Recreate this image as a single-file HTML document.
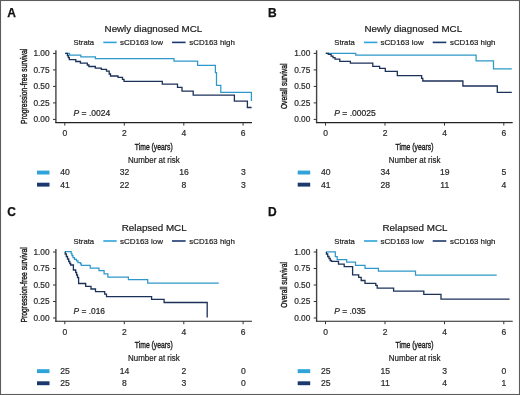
<!DOCTYPE html>
<html><head><meta charset="utf-8"><style>
html,body{margin:0;padding:0;background:#fff;}
body{width:520px;height:395px;overflow:hidden;}
svg{display:block;font-family:"Liberation Sans", sans-serif;filter:blur(0.3px);}
</style></head><body>
<svg width="520" height="395" viewBox="0 0 520 395">
<rect x="0" y="0" width="520" height="395" fill="#fff"/>
<g>
<text x="7.3" y="17.0" font-size="12" text-anchor="start" fill="#111" stroke="#111" stroke-width="0.25" font-weight="bold">A</text>
<text x="153.4" y="32.1" font-size="9.8" text-anchor="middle" fill="#1a1a1a" stroke="#1a1a1a" stroke-width="0.2" textLength="97.6" lengthAdjust="spacingAndGlyphs">Newly diagnosed MCL</text>
<text x="73.6" y="45.2" font-size="8.1" text-anchor="start" fill="#222" stroke="#222" stroke-width="0.2" textLength="20.5" lengthAdjust="spacingAndGlyphs">Strata</text>
<line x1="103.3" y1="42.4" x2="116.7" y2="42.4" stroke="#2fa3da" stroke-width="1.6"/>
<text x="119.9" y="45.2" font-size="8.1" text-anchor="start" fill="#222" stroke="#222" stroke-width="0.2" textLength="43.1" lengthAdjust="spacingAndGlyphs">sCD163 low</text>
<line x1="172.0" y1="42.4" x2="185.6" y2="42.4" stroke="#1b396e" stroke-width="1.6"/>
<text x="189.3" y="45.2" font-size="8.1" text-anchor="start" fill="#222" stroke="#222" stroke-width="0.2" textLength="45.5" lengthAdjust="spacingAndGlyphs">sCD163 high</text>
<text transform="translate(26.6,86.3) rotate(-90)" x="0" y="0" font-size="9.6" text-anchor="middle" fill="#1a1a1a" stroke="#1a1a1a" stroke-width="0.4" textLength="75.2" lengthAdjust="spacingAndGlyphs">Progression-free survival</text>
<line x1="55.9" y1="50.3" x2="55.9" y2="123.1" stroke="#444" stroke-width="1.4"/>
<line x1="55.3" y1="122.6" x2="252.0" y2="122.6" stroke="#222" stroke-width="1.1"/>
<line x1="53.0" y1="53.4" x2="55.9" y2="53.4" stroke="#333" stroke-width="1"/>
<text x="49.6" y="56.3" font-size="8.3" text-anchor="end" fill="#2a2a2a" stroke="#2a2a2a" stroke-width="0.2" >1.00</text>
<line x1="53.0" y1="69.9" x2="55.9" y2="69.9" stroke="#333" stroke-width="1"/>
<text x="49.6" y="72.8" font-size="8.3" text-anchor="end" fill="#2a2a2a" stroke="#2a2a2a" stroke-width="0.2" >0.75</text>
<line x1="53.0" y1="86.4" x2="55.9" y2="86.4" stroke="#333" stroke-width="1"/>
<text x="49.6" y="89.3" font-size="8.3" text-anchor="end" fill="#2a2a2a" stroke="#2a2a2a" stroke-width="0.2" >0.50</text>
<line x1="53.0" y1="102.9" x2="55.9" y2="102.9" stroke="#333" stroke-width="1"/>
<text x="49.6" y="105.8" font-size="8.3" text-anchor="end" fill="#2a2a2a" stroke="#2a2a2a" stroke-width="0.2" >0.25</text>
<line x1="53.0" y1="119.4" x2="55.9" y2="119.4" stroke="#333" stroke-width="1"/>
<text x="49.6" y="122.3" font-size="8.3" text-anchor="end" fill="#2a2a2a" stroke="#2a2a2a" stroke-width="0.2" >0.00</text>
<line x1="64.8" y1="122.6" x2="64.8" y2="125.6" stroke="#333" stroke-width="1"/>
<text x="64.8" y="136.0" font-size="8.5" text-anchor="middle" fill="#2a2a2a" stroke="#2a2a2a" stroke-width="0.2" >0</text>
<line x1="124.3" y1="122.6" x2="124.3" y2="125.6" stroke="#333" stroke-width="1"/>
<text x="124.3" y="136.0" font-size="8.5" text-anchor="middle" fill="#2a2a2a" stroke="#2a2a2a" stroke-width="0.2" >2</text>
<line x1="183.8" y1="122.6" x2="183.8" y2="125.6" stroke="#333" stroke-width="1"/>
<text x="183.8" y="136.0" font-size="8.5" text-anchor="middle" fill="#2a2a2a" stroke="#2a2a2a" stroke-width="0.2" >4</text>
<line x1="243.1" y1="122.6" x2="243.1" y2="125.6" stroke="#333" stroke-width="1"/>
<text x="243.1" y="136.0" font-size="8.5" text-anchor="middle" fill="#2a2a2a" stroke="#2a2a2a" stroke-width="0.2" >6</text>
<text x="153.8" y="149.8" font-size="9.9" text-anchor="middle" fill="#1a1a1a" stroke="#1a1a1a" stroke-width="0.4" textLength="37.9" lengthAdjust="spacingAndGlyphs">Time (years)</text>
<text x="153.9" y="162.6" font-size="8.4" text-anchor="middle" fill="#222" stroke="#222" stroke-width="0.2" textLength="51.6" lengthAdjust="spacingAndGlyphs">Number at risk</text>
<rect x="37.0" y="170.6" width="12.5" height="3.9" fill="#2fa3da"/>
<rect x="37.0" y="182.7" width="12.5" height="3.9" fill="#1b396e"/>
<text x="65.0" y="175.2" font-size="8.6" text-anchor="middle" fill="#2a2a2a" stroke="#2a2a2a" stroke-width="0.2" >40</text>
<text x="65.0" y="187.6" font-size="8.6" text-anchor="middle" fill="#2a2a2a" stroke="#2a2a2a" stroke-width="0.2" >41</text>
<text x="124.5" y="175.2" font-size="8.6" text-anchor="middle" fill="#2a2a2a" stroke="#2a2a2a" stroke-width="0.2" >32</text>
<text x="124.5" y="187.6" font-size="8.6" text-anchor="middle" fill="#2a2a2a" stroke="#2a2a2a" stroke-width="0.2" >22</text>
<text x="184.0" y="175.2" font-size="8.6" text-anchor="middle" fill="#2a2a2a" stroke="#2a2a2a" stroke-width="0.2" >16</text>
<text x="184.0" y="187.6" font-size="8.6" text-anchor="middle" fill="#2a2a2a" stroke="#2a2a2a" stroke-width="0.2" >8</text>
<text x="243.3" y="175.2" font-size="8.6" text-anchor="middle" fill="#2a2a2a" stroke="#2a2a2a" stroke-width="0.2" >3</text>
<text x="243.3" y="187.6" font-size="8.6" text-anchor="middle" fill="#2a2a2a" stroke="#2a2a2a" stroke-width="0.2" >3</text>
<text x="73.6" y="115.6" font-size="8.5" fill="#222" stroke="#222" stroke-width="0.2" textLength="36.6" lengthAdjust="spacingAndGlyphs"><tspan font-style="italic">P</tspan> = .0024</text>
<path d="M65.2,53.4H69.5V55.2H80.8V56.8H95.4V58.7H174.0V61.1H197.6V65.4H215.4V72.7H216.5V85.3H220.8V92.3H251.4V101.1" fill="none" stroke="#2e98ca" stroke-width="1.25" stroke-linejoin="miter" stroke-linecap="butt"/>
<path d="M65.2,53.4H67.4V55.5H68.3V57.5H69.3V59.7H75.8V61.5H80.4V63.2H87.3V65.0H88.9V66.5H95.3V68.1H101.3V69.3H106.5V71.1H109.2V74.0H110.5V76.0H118.0V77.4H122.5V79.4H124.0V81.4H162.3V84.2H177.5V87.3H182.0V91.1H193.2V95.2H234.4V101.1H247.4V107.5H251.6" fill="none" stroke="#1b3158" stroke-width="1.3" stroke-linejoin="miter" stroke-linecap="butt"/>
</g>
<g>
<text x="268.0" y="17.0" font-size="12" text-anchor="start" fill="#111" stroke="#111" stroke-width="0.25" font-weight="bold">B</text>
<text x="413.3" y="32.1" font-size="9.8" text-anchor="middle" fill="#1a1a1a" stroke="#1a1a1a" stroke-width="0.2" textLength="97.6" lengthAdjust="spacingAndGlyphs">Newly diagnosed MCL</text>
<text x="334.3" y="45.2" font-size="8.1" text-anchor="start" fill="#222" stroke="#222" stroke-width="0.2" textLength="20.5" lengthAdjust="spacingAndGlyphs">Strata</text>
<line x1="364.0" y1="42.4" x2="377.4" y2="42.4" stroke="#2fa3da" stroke-width="1.6"/>
<text x="380.6" y="45.2" font-size="8.1" text-anchor="start" fill="#222" stroke="#222" stroke-width="0.2" textLength="43.1" lengthAdjust="spacingAndGlyphs">sCD163 low</text>
<line x1="432.7" y1="42.4" x2="446.3" y2="42.4" stroke="#1b396e" stroke-width="1.6"/>
<text x="450.0" y="45.2" font-size="8.1" text-anchor="start" fill="#222" stroke="#222" stroke-width="0.2" textLength="45.5" lengthAdjust="spacingAndGlyphs">sCD163 high</text>
<text transform="translate(287.3,86.3) rotate(-90)" x="0" y="0" font-size="9.6" text-anchor="middle" fill="#1a1a1a" stroke="#1a1a1a" stroke-width="0.4" textLength="45.6" lengthAdjust="spacingAndGlyphs">Overall survival</text>
<line x1="316.6" y1="50.3" x2="316.6" y2="123.1" stroke="#444" stroke-width="1.4"/>
<line x1="316.0" y1="122.6" x2="512.7" y2="122.6" stroke="#222" stroke-width="1.1"/>
<line x1="313.7" y1="53.4" x2="316.6" y2="53.4" stroke="#333" stroke-width="1"/>
<text x="310.3" y="56.3" font-size="8.3" text-anchor="end" fill="#2a2a2a" stroke="#2a2a2a" stroke-width="0.2" >1.00</text>
<line x1="313.7" y1="69.9" x2="316.6" y2="69.9" stroke="#333" stroke-width="1"/>
<text x="310.3" y="72.8" font-size="8.3" text-anchor="end" fill="#2a2a2a" stroke="#2a2a2a" stroke-width="0.2" >0.75</text>
<line x1="313.7" y1="86.4" x2="316.6" y2="86.4" stroke="#333" stroke-width="1"/>
<text x="310.3" y="89.3" font-size="8.3" text-anchor="end" fill="#2a2a2a" stroke="#2a2a2a" stroke-width="0.2" >0.50</text>
<line x1="313.7" y1="102.9" x2="316.6" y2="102.9" stroke="#333" stroke-width="1"/>
<text x="310.3" y="105.8" font-size="8.3" text-anchor="end" fill="#2a2a2a" stroke="#2a2a2a" stroke-width="0.2" >0.25</text>
<line x1="313.7" y1="119.4" x2="316.6" y2="119.4" stroke="#333" stroke-width="1"/>
<text x="310.3" y="122.3" font-size="8.3" text-anchor="end" fill="#2a2a2a" stroke="#2a2a2a" stroke-width="0.2" >0.00</text>
<line x1="325.5" y1="122.6" x2="325.5" y2="125.6" stroke="#333" stroke-width="1"/>
<text x="325.5" y="136.0" font-size="8.5" text-anchor="middle" fill="#2a2a2a" stroke="#2a2a2a" stroke-width="0.2" >0</text>
<line x1="385.0" y1="122.6" x2="385.0" y2="125.6" stroke="#333" stroke-width="1"/>
<text x="385.0" y="136.0" font-size="8.5" text-anchor="middle" fill="#2a2a2a" stroke="#2a2a2a" stroke-width="0.2" >2</text>
<line x1="444.5" y1="122.6" x2="444.5" y2="125.6" stroke="#333" stroke-width="1"/>
<text x="444.5" y="136.0" font-size="8.5" text-anchor="middle" fill="#2a2a2a" stroke="#2a2a2a" stroke-width="0.2" >4</text>
<line x1="503.8" y1="122.6" x2="503.8" y2="125.6" stroke="#333" stroke-width="1"/>
<text x="503.8" y="136.0" font-size="8.5" text-anchor="middle" fill="#2a2a2a" stroke="#2a2a2a" stroke-width="0.2" >6</text>
<text x="414.5" y="149.8" font-size="9.9" text-anchor="middle" fill="#1a1a1a" stroke="#1a1a1a" stroke-width="0.4" textLength="37.9" lengthAdjust="spacingAndGlyphs">Time (years)</text>
<text x="414.6" y="162.6" font-size="8.4" text-anchor="middle" fill="#222" stroke="#222" stroke-width="0.2" textLength="51.6" lengthAdjust="spacingAndGlyphs">Number at risk</text>
<rect x="297.7" y="170.6" width="12.5" height="3.9" fill="#2fa3da"/>
<rect x="297.7" y="182.7" width="12.5" height="3.9" fill="#1b396e"/>
<text x="325.7" y="175.2" font-size="8.6" text-anchor="middle" fill="#2a2a2a" stroke="#2a2a2a" stroke-width="0.2" >40</text>
<text x="325.7" y="187.6" font-size="8.6" text-anchor="middle" fill="#2a2a2a" stroke="#2a2a2a" stroke-width="0.2" >41</text>
<text x="385.2" y="175.2" font-size="8.6" text-anchor="middle" fill="#2a2a2a" stroke="#2a2a2a" stroke-width="0.2" >34</text>
<text x="385.2" y="187.6" font-size="8.6" text-anchor="middle" fill="#2a2a2a" stroke="#2a2a2a" stroke-width="0.2" >28</text>
<text x="444.7" y="175.2" font-size="8.6" text-anchor="middle" fill="#2a2a2a" stroke="#2a2a2a" stroke-width="0.2" >19</text>
<text x="444.7" y="187.6" font-size="8.6" text-anchor="middle" fill="#2a2a2a" stroke="#2a2a2a" stroke-width="0.2" >11</text>
<text x="504.0" y="175.2" font-size="8.6" text-anchor="middle" fill="#2a2a2a" stroke="#2a2a2a" stroke-width="0.2" >5</text>
<text x="504.0" y="187.6" font-size="8.6" text-anchor="middle" fill="#2a2a2a" stroke="#2a2a2a" stroke-width="0.2" >4</text>
<text x="334.3" y="115.6" font-size="8.5" fill="#222" stroke="#222" stroke-width="0.2" textLength="41.4" lengthAdjust="spacingAndGlyphs"><tspan font-style="italic">P</tspan> = .00025</text>
<path d="M325.8,53.3H355.7V55.2H476.1V60.9H493.5V68.9H511.8" fill="none" stroke="#2e98ca" stroke-width="1.25" stroke-linejoin="miter" stroke-linecap="butt"/>
<path d="M325.8,53.3H328.3V54.3H331.1V56.2H333.0V57.6H335.0V59.1H339.8V61.3H350.4V63.2H372.8V66.4H379.6V68.3H385.3V71.4H397.3V75.6H421.6V78.4H422.8V81.0H462.9V86.0H497.3V92.3H511.8" fill="none" stroke="#1b3158" stroke-width="1.3" stroke-linejoin="miter" stroke-linecap="butt"/>
</g>
<g>
<text x="7.3" y="215.6" font-size="12" text-anchor="start" fill="#111" stroke="#111" stroke-width="0.25" font-weight="bold">C</text>
<text x="154.2" y="230.7" font-size="9.8" text-anchor="middle" fill="#1a1a1a" stroke="#1a1a1a" stroke-width="0.2" textLength="65" lengthAdjust="spacingAndGlyphs">Relapsed MCL</text>
<text x="73.6" y="243.8" font-size="8.1" text-anchor="start" fill="#222" stroke="#222" stroke-width="0.2" textLength="20.5" lengthAdjust="spacingAndGlyphs">Strata</text>
<line x1="103.3" y1="241.0" x2="116.7" y2="241.0" stroke="#2fa3da" stroke-width="1.6"/>
<text x="119.9" y="243.8" font-size="8.1" text-anchor="start" fill="#222" stroke="#222" stroke-width="0.2" textLength="43.1" lengthAdjust="spacingAndGlyphs">sCD163 low</text>
<line x1="172.0" y1="241.0" x2="185.6" y2="241.0" stroke="#1b396e" stroke-width="1.6"/>
<text x="189.3" y="243.8" font-size="8.1" text-anchor="start" fill="#222" stroke="#222" stroke-width="0.2" textLength="45.5" lengthAdjust="spacingAndGlyphs">sCD163 high</text>
<text transform="translate(26.6,284.9) rotate(-90)" x="0" y="0" font-size="9.6" text-anchor="middle" fill="#1a1a1a" stroke="#1a1a1a" stroke-width="0.4" textLength="75.2" lengthAdjust="spacingAndGlyphs">Progression-free survival</text>
<line x1="55.9" y1="248.9" x2="55.9" y2="321.7" stroke="#444" stroke-width="1.4"/>
<line x1="55.3" y1="321.2" x2="252.0" y2="321.2" stroke="#222" stroke-width="1.1"/>
<line x1="53.0" y1="252.0" x2="55.9" y2="252.0" stroke="#333" stroke-width="1"/>
<text x="49.6" y="254.9" font-size="8.3" text-anchor="end" fill="#2a2a2a" stroke="#2a2a2a" stroke-width="0.2" >1.00</text>
<line x1="53.0" y1="268.5" x2="55.9" y2="268.5" stroke="#333" stroke-width="1"/>
<text x="49.6" y="271.4" font-size="8.3" text-anchor="end" fill="#2a2a2a" stroke="#2a2a2a" stroke-width="0.2" >0.75</text>
<line x1="53.0" y1="285.0" x2="55.9" y2="285.0" stroke="#333" stroke-width="1"/>
<text x="49.6" y="287.9" font-size="8.3" text-anchor="end" fill="#2a2a2a" stroke="#2a2a2a" stroke-width="0.2" >0.50</text>
<line x1="53.0" y1="301.5" x2="55.9" y2="301.5" stroke="#333" stroke-width="1"/>
<text x="49.6" y="304.4" font-size="8.3" text-anchor="end" fill="#2a2a2a" stroke="#2a2a2a" stroke-width="0.2" >0.25</text>
<line x1="53.0" y1="318.0" x2="55.9" y2="318.0" stroke="#333" stroke-width="1"/>
<text x="49.6" y="320.9" font-size="8.3" text-anchor="end" fill="#2a2a2a" stroke="#2a2a2a" stroke-width="0.2" >0.00</text>
<line x1="64.8" y1="321.2" x2="64.8" y2="324.2" stroke="#333" stroke-width="1"/>
<text x="64.8" y="334.6" font-size="8.5" text-anchor="middle" fill="#2a2a2a" stroke="#2a2a2a" stroke-width="0.2" >0</text>
<line x1="124.3" y1="321.2" x2="124.3" y2="324.2" stroke="#333" stroke-width="1"/>
<text x="124.3" y="334.6" font-size="8.5" text-anchor="middle" fill="#2a2a2a" stroke="#2a2a2a" stroke-width="0.2" >2</text>
<line x1="183.8" y1="321.2" x2="183.8" y2="324.2" stroke="#333" stroke-width="1"/>
<text x="183.8" y="334.6" font-size="8.5" text-anchor="middle" fill="#2a2a2a" stroke="#2a2a2a" stroke-width="0.2" >4</text>
<line x1="243.1" y1="321.2" x2="243.1" y2="324.2" stroke="#333" stroke-width="1"/>
<text x="243.1" y="334.6" font-size="8.5" text-anchor="middle" fill="#2a2a2a" stroke="#2a2a2a" stroke-width="0.2" >6</text>
<text x="153.8" y="348.4" font-size="9.9" text-anchor="middle" fill="#1a1a1a" stroke="#1a1a1a" stroke-width="0.4" textLength="37.9" lengthAdjust="spacingAndGlyphs">Time (years)</text>
<text x="153.9" y="361.2" font-size="8.4" text-anchor="middle" fill="#222" stroke="#222" stroke-width="0.2" textLength="51.6" lengthAdjust="spacingAndGlyphs">Number at risk</text>
<rect x="37.0" y="369.2" width="12.5" height="3.9" fill="#2fa3da"/>
<rect x="37.0" y="381.3" width="12.5" height="3.9" fill="#1b396e"/>
<text x="65.0" y="373.8" font-size="8.6" text-anchor="middle" fill="#2a2a2a" stroke="#2a2a2a" stroke-width="0.2" >25</text>
<text x="65.0" y="386.2" font-size="8.6" text-anchor="middle" fill="#2a2a2a" stroke="#2a2a2a" stroke-width="0.2" >25</text>
<text x="124.5" y="373.8" font-size="8.6" text-anchor="middle" fill="#2a2a2a" stroke="#2a2a2a" stroke-width="0.2" >14</text>
<text x="124.5" y="386.2" font-size="8.6" text-anchor="middle" fill="#2a2a2a" stroke="#2a2a2a" stroke-width="0.2" >8</text>
<text x="184.0" y="373.8" font-size="8.6" text-anchor="middle" fill="#2a2a2a" stroke="#2a2a2a" stroke-width="0.2" >2</text>
<text x="184.0" y="386.2" font-size="8.6" text-anchor="middle" fill="#2a2a2a" stroke="#2a2a2a" stroke-width="0.2" >3</text>
<text x="243.3" y="373.8" font-size="8.6" text-anchor="middle" fill="#2a2a2a" stroke="#2a2a2a" stroke-width="0.2" >0</text>
<text x="243.3" y="386.2" font-size="8.6" text-anchor="middle" fill="#2a2a2a" stroke="#2a2a2a" stroke-width="0.2" >0</text>
<text x="73.6" y="314.2" font-size="8.5" fill="#222" stroke="#222" stroke-width="0.2" textLength="31.4" lengthAdjust="spacingAndGlyphs"><tspan font-style="italic">P</tspan> = .016</text>
<path d="M65.0,251.6H71.2V253.5H72.0V255.5H73.0V257.5H74.5V259.3H76.5V260.8H78.0V262.5H80.5V263.8H81.3V265.3H90.2V268.2H99.0V270.7H104.1V273.9H107.9V277.0H128.4V279.6H147.7V283.1H218.8" fill="none" stroke="#2e98ca" stroke-width="1.25" stroke-linejoin="miter" stroke-linecap="butt"/>
<path d="M65.2,251.6V254.0H66.3V256.5H67.5V259.0H68.7V261.5H69.8V263.5H70.7V265.0H73.4V270.0H75.7V272.5H76.6V275.0H77.5V277.5H78.6V283.5H85.7V286.3H91.0V289.0H95.5V291.6H104.7V294.1H106.5V296.7H151.6V299.4H164.1V302.5H207.2V317.6" fill="none" stroke="#1b3158" stroke-width="1.3" stroke-linejoin="miter" stroke-linecap="butt"/>
</g>
<g>
<text x="268.0" y="215.6" font-size="12" text-anchor="start" fill="#111" stroke="#111" stroke-width="0.25" font-weight="bold">D</text>
<text x="415.0" y="230.7" font-size="9.8" text-anchor="middle" fill="#1a1a1a" stroke="#1a1a1a" stroke-width="0.2" textLength="65" lengthAdjust="spacingAndGlyphs">Relapsed MCL</text>
<text x="334.3" y="243.8" font-size="8.1" text-anchor="start" fill="#222" stroke="#222" stroke-width="0.2" textLength="20.5" lengthAdjust="spacingAndGlyphs">Strata</text>
<line x1="364.0" y1="241.0" x2="377.4" y2="241.0" stroke="#2fa3da" stroke-width="1.6"/>
<text x="380.6" y="243.8" font-size="8.1" text-anchor="start" fill="#222" stroke="#222" stroke-width="0.2" textLength="43.1" lengthAdjust="spacingAndGlyphs">sCD163 low</text>
<line x1="432.7" y1="241.0" x2="446.3" y2="241.0" stroke="#1b396e" stroke-width="1.6"/>
<text x="450.0" y="243.8" font-size="8.1" text-anchor="start" fill="#222" stroke="#222" stroke-width="0.2" textLength="45.5" lengthAdjust="spacingAndGlyphs">sCD163 high</text>
<text transform="translate(287.3,284.9) rotate(-90)" x="0" y="0" font-size="9.6" text-anchor="middle" fill="#1a1a1a" stroke="#1a1a1a" stroke-width="0.4" textLength="45.6" lengthAdjust="spacingAndGlyphs">Overall survival</text>
<line x1="316.6" y1="248.9" x2="316.6" y2="321.7" stroke="#444" stroke-width="1.4"/>
<line x1="316.0" y1="321.2" x2="512.7" y2="321.2" stroke="#222" stroke-width="1.1"/>
<line x1="313.7" y1="252.0" x2="316.6" y2="252.0" stroke="#333" stroke-width="1"/>
<text x="310.3" y="254.9" font-size="8.3" text-anchor="end" fill="#2a2a2a" stroke="#2a2a2a" stroke-width="0.2" >1.00</text>
<line x1="313.7" y1="268.5" x2="316.6" y2="268.5" stroke="#333" stroke-width="1"/>
<text x="310.3" y="271.4" font-size="8.3" text-anchor="end" fill="#2a2a2a" stroke="#2a2a2a" stroke-width="0.2" >0.75</text>
<line x1="313.7" y1="285.0" x2="316.6" y2="285.0" stroke="#333" stroke-width="1"/>
<text x="310.3" y="287.9" font-size="8.3" text-anchor="end" fill="#2a2a2a" stroke="#2a2a2a" stroke-width="0.2" >0.50</text>
<line x1="313.7" y1="301.5" x2="316.6" y2="301.5" stroke="#333" stroke-width="1"/>
<text x="310.3" y="304.4" font-size="8.3" text-anchor="end" fill="#2a2a2a" stroke="#2a2a2a" stroke-width="0.2" >0.25</text>
<line x1="313.7" y1="318.0" x2="316.6" y2="318.0" stroke="#333" stroke-width="1"/>
<text x="310.3" y="320.9" font-size="8.3" text-anchor="end" fill="#2a2a2a" stroke="#2a2a2a" stroke-width="0.2" >0.00</text>
<line x1="325.5" y1="321.2" x2="325.5" y2="324.2" stroke="#333" stroke-width="1"/>
<text x="325.5" y="334.6" font-size="8.5" text-anchor="middle" fill="#2a2a2a" stroke="#2a2a2a" stroke-width="0.2" >0</text>
<line x1="385.0" y1="321.2" x2="385.0" y2="324.2" stroke="#333" stroke-width="1"/>
<text x="385.0" y="334.6" font-size="8.5" text-anchor="middle" fill="#2a2a2a" stroke="#2a2a2a" stroke-width="0.2" >2</text>
<line x1="444.5" y1="321.2" x2="444.5" y2="324.2" stroke="#333" stroke-width="1"/>
<text x="444.5" y="334.6" font-size="8.5" text-anchor="middle" fill="#2a2a2a" stroke="#2a2a2a" stroke-width="0.2" >4</text>
<line x1="503.8" y1="321.2" x2="503.8" y2="324.2" stroke="#333" stroke-width="1"/>
<text x="503.8" y="334.6" font-size="8.5" text-anchor="middle" fill="#2a2a2a" stroke="#2a2a2a" stroke-width="0.2" >6</text>
<text x="414.5" y="348.4" font-size="9.9" text-anchor="middle" fill="#1a1a1a" stroke="#1a1a1a" stroke-width="0.4" textLength="37.9" lengthAdjust="spacingAndGlyphs">Time (years)</text>
<text x="414.6" y="361.2" font-size="8.4" text-anchor="middle" fill="#222" stroke="#222" stroke-width="0.2" textLength="51.6" lengthAdjust="spacingAndGlyphs">Number at risk</text>
<rect x="297.7" y="369.2" width="12.5" height="3.9" fill="#2fa3da"/>
<rect x="297.7" y="381.3" width="12.5" height="3.9" fill="#1b396e"/>
<text x="325.7" y="373.8" font-size="8.6" text-anchor="middle" fill="#2a2a2a" stroke="#2a2a2a" stroke-width="0.2" >25</text>
<text x="325.7" y="386.2" font-size="8.6" text-anchor="middle" fill="#2a2a2a" stroke="#2a2a2a" stroke-width="0.2" >25</text>
<text x="385.2" y="373.8" font-size="8.6" text-anchor="middle" fill="#2a2a2a" stroke="#2a2a2a" stroke-width="0.2" >15</text>
<text x="385.2" y="386.2" font-size="8.6" text-anchor="middle" fill="#2a2a2a" stroke="#2a2a2a" stroke-width="0.2" >11</text>
<text x="444.7" y="373.8" font-size="8.6" text-anchor="middle" fill="#2a2a2a" stroke="#2a2a2a" stroke-width="0.2" >3</text>
<text x="444.7" y="386.2" font-size="8.6" text-anchor="middle" fill="#2a2a2a" stroke="#2a2a2a" stroke-width="0.2" >4</text>
<text x="504.0" y="373.8" font-size="8.6" text-anchor="middle" fill="#2a2a2a" stroke="#2a2a2a" stroke-width="0.2" >0</text>
<text x="504.0" y="386.2" font-size="8.6" text-anchor="middle" fill="#2a2a2a" stroke="#2a2a2a" stroke-width="0.2" >1</text>
<text x="334.3" y="314.2" font-size="8.5" fill="#222" stroke="#222" stroke-width="0.2" textLength="31.4" lengthAdjust="spacingAndGlyphs"><tspan font-style="italic">P</tspan> = .035</text>
<path d="M326.4,251.8H335.3V256.5H337.2V259.7H346.7V262.2H355.5V265.4H365.0V268.4H378.4V271.0H415.5V275.2H496.7" fill="none" stroke="#2e98ca" stroke-width="1.25" stroke-linejoin="miter" stroke-linecap="butt"/>
<path d="M326.4,251.8V254.0H327.7V256.5H329.0V258.5H330.2V260.5H331.5V261.3H338.5V264.1H344.2V266.6H352.6V274.8H358.7V277.4H361.2V280.5H365.0V283.3H375.8V285.4H377.2V288.1H393.6V291.2H423.8V294.3H441.0V299.2H509.6" fill="none" stroke="#1b3158" stroke-width="1.3" stroke-linejoin="miter" stroke-linecap="butt"/>
</g>
<rect x="0.5" y="0.5" width="519" height="394" fill="none" stroke="#5c5c5c" stroke-width="1.1"/>
</svg>
</body></html>
